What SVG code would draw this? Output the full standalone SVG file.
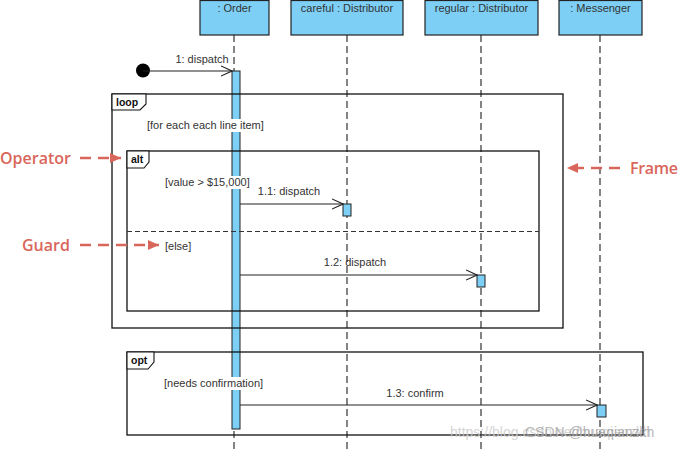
<svg xmlns="http://www.w3.org/2000/svg" width="680" height="450" viewBox="0 0 680 450">
<style>
.head{fill:#7dcff5;stroke:#222;stroke-width:1.2}
.act{fill:#7dcff5;stroke:#222;stroke-width:1}
.life{stroke:#333;stroke-width:1.2;stroke-dasharray:7,4;fill:none}
.frame{fill:none;stroke:#111;stroke-width:1.3}
.tab{fill:#fff;stroke:#111;stroke-width:1.1}
.msg{stroke:#222;stroke-width:1.1;fill:none}
.sep{stroke:#333;stroke-width:1.2;stroke-dasharray:5,3}
.bg{fill:#fff}
.t{font-family:"Liberation Sans",Arial,sans-serif;font-size:11px;fill:#333}
.tb{font-family:"Liberation Sans",Arial,sans-serif;font-size:10.5px;font-weight:bold;fill:#111}
.ann{font-family:"Open Sans","Liberation Sans",sans-serif;font-size:16px;font-weight:600;fill:#d9665b}
.annl{stroke:#d9665b;stroke-width:2.5;stroke-dasharray:11,7;fill:none}
</style>
<defs>
<marker id="open" markerWidth="12" markerHeight="12" refX="11" refY="6" orient="auto" markerUnits="userSpaceOnUse">
<path d="M0,1 L11,6 L0,11" fill="none" stroke="#222" stroke-width="1.1"/>
</marker>
<marker id="red" markerWidth="12" markerHeight="10" refX="11" refY="5" orient="auto" markerUnits="userSpaceOnUse">
<path d="M0,0 L11,5 L0,10 Z" fill="#d9665b"/>
</marker>
</defs>
<g id="lifelines">
<line class="life" x1="234" y1="35" x2="234" y2="450"/>
<line class="life" x1="347" y1="35" x2="347" y2="450"/>
<line class="life" x1="481" y1="35" x2="481" y2="450"/>
<line class="life" x1="600" y1="35" x2="600" y2="450"/>
</g>
<g id="order"><rect class="head" x="200" y="0.5" width="69" height="34.5"/><text class="t" x="234.5" y="12" text-anchor="middle">: Order</text></g>
<g id="careful"><rect class="head" x="291" y="0.5" width="112" height="34.5"/><text class="t" x="347" y="12" text-anchor="middle">careful : Distributor</text></g>
<g id="regular"><rect class="head" x="425" y="0.5" width="113" height="34.5"/><text class="t" x="481.5" y="12" text-anchor="middle">regular : Distributor</text></g>
<g id="messenger"><rect class="head" x="559" y="0.5" width="83" height="34.5"/><text class="t" x="600.5" y="12" text-anchor="middle">: Messenger</text></g>
<g id="activations">
<rect class="act" x="232" y="71" width="8" height="358"/>
<rect class="act" x="343" y="204" width="8" height="12"/>
<rect class="act" x="477" y="275" width="8" height="12"/>
<rect class="act" x="597" y="405" width="9" height="12"/>
</g>
<g id="loop">
<rect class="frame" x="112" y="94" width="451" height="234"/>
<path class="tab" d="M112,94 H146 V104 L140,110 H112 Z"/>
<text class="tb" x="116" y="106">loop</text>
<rect class="bg" x="229" y="119" width="14" height="13"/>
<text class="t" x="147" y="129">[for each each line item]</text>
</g>
<g id="alt">
<rect class="frame" x="127" y="151" width="412" height="160"/>
<path class="tab" d="M127,151 H149 V162 L144,168 H127 Z"/>
<text class="tb" x="131" y="163">alt</text>
<rect class="bg" x="229" y="176" width="14" height="13"/>
<text class="t" x="165" y="186">[value &gt; $15,000]</text>
<line class="sep" x1="127" y1="231.5" x2="539" y2="231.5"/>
<text class="t" x="165" y="250">[else]</text>
</g>
<g id="opt">
<rect class="frame" x="127" y="352" width="516" height="83"/>
<path class="tab" d="M127,352 H154 V362 L148,369 H127 Z"/>
<text class="tb" x="131" y="364">opt</text>
<rect class="bg" x="229" y="377" width="14" height="13"/>
<text class="t" x="164" y="387">[needs confirmation]</text>
</g>
<g id="start"><circle cx="143" cy="70.5" r="7" fill="#000"/></g>
<g id="connectors">
<line class="msg" x1="143" y1="71" x2="232" y2="71" marker-end="url(#open)"/>
<text class="t" x="202" y="63" text-anchor="middle">1: dispatch</text>
<line class="msg" x1="240" y1="204" x2="343" y2="204" marker-end="url(#open)"/>
<text class="t" x="289" y="195" text-anchor="middle">1.1: dispatch</text>
<line class="msg" x1="240" y1="275" x2="477" y2="275" marker-end="url(#open)"/>
<text class="t" x="355" y="266" text-anchor="middle">1.2: dispatch</text>
<line class="msg" x1="240" y1="405" x2="597" y2="405" marker-end="url(#open)"/>
<text class="t" x="415" y="397" text-anchor="middle">1.3: confirm</text>
</g>
<g id="annotations">
<text class="ann" x="0" y="164">Operator</text>
<line class="annl" x1="80" y1="158" x2="121" y2="158" marker-end="url(#red)"/>
<text class="ann" x="22" y="251">Guard</text>
<line class="annl" x1="80" y1="245" x2="159" y2="245" marker-end="url(#red)"/>
<text class="ann" x="630" y="174" textLength="48">Frame</text>
<line class="annl" x1="620" y1="168" x2="567" y2="168" marker-end="url(#red)"/>
</g>
<g id="watermark">
<text x="450" y="437" font-family="Liberation Sans,Arial,sans-serif" font-size="14" fill="#ccc" opacity="0.8">https://blog.csdn.net/huaqianzkh</text>
<text x="525" y="437" font-family="Liberation Sans,Arial,sans-serif" font-size="14" fill="#888" opacity="0.6">CSDN @huaqianzkh</text>
</g>
</svg>
